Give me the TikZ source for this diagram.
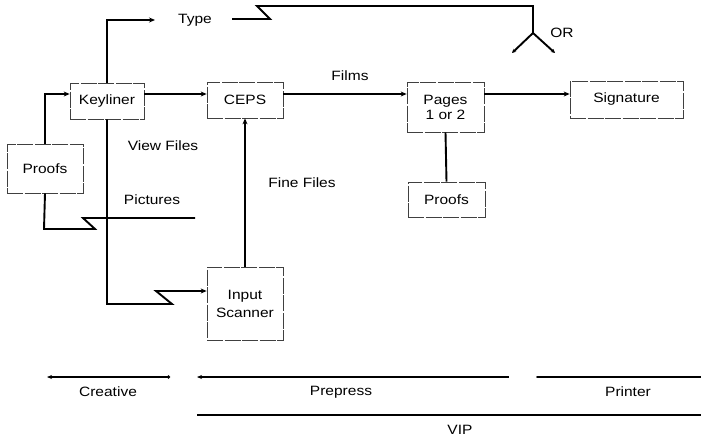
\documentclass[tikz,border=0pt]{standalone}
\usepackage{fontspec}
\setmainfont{Liberation Sans}[FakeStretch=1.15]
\usetikzlibrary{arrows.meta}

\tikzset{
  unit/.style={draw=black!75, line width=0.7pt, dash pattern=on 16pt off 1.5pt,
    minimum width=#1, inner sep=0pt, align=center, font=\fontsize{13.5}{16}\selectfont},
  lbl/.style={inner sep=0pt, font=\fontsize{13.5}{16}\selectfont},
  flow/.style={line width=1.9pt, line join=miter},
  tip/.style={-{Stealth[length=6pt,width=5pt]}},
  band/.style={line width=2pt},
}

\begin{document}
\begin{tikzpicture}[x=1pt,y=-1pt]
\useasboundingbox (0,0) rectangle (701,437);

% units of work
\node[unit=74pt, minimum height=36pt] (keyliner)  at (107,101)   {Keyliner};
\node[unit=76pt, minimum height=36pt] (ceps)      at (245,100)   {CEPS};
\node[unit=77pt, minimum height=50pt] (pages)     at (445.5,107) {Pages\\[-1pt]1 or 2};
\node[unit=113pt,minimum height=37pt] (signature) at (626.5,99.5){Signature};
\node[unit=76pt, minimum height=49pt] (proofsL)   at (45,168.5)  {Proofs};
\node[unit=77pt, minimum height=35pt] (proofsR)   at (446.5,199.5){Proofs};
\node[unit=76pt, minimum height=73pt] (scanner)   at (245,303.5) {Input\\[2pt]Scanner};

% labels
\node[lbl] (type)     at (195,20)  {Type};
\node[lbl] (or)       at (562,33)  {OR};
\node[lbl] (films)    at (350,76)  {Films};
\node[lbl] (view)     at (163,146) {View Files};
\node[lbl] (pictures) at (152,200) {Pictures};
\node[lbl] (fine)     at (302,183) {Fine Files};
\node[lbl] (creative) at (108,392) {Creative};
\node[lbl] (prepress) at (341,392) {Prepress};
\node[lbl] (printer)  at (628,392) {Printer};
\node[lbl] (vip)      at (460,430) {VIP};

% helper points
\coordinate (main) at (0,94);
\coordinate (typeEnd) at (155,20);
\coordinate (fork) at (533,33);
\coordinate (forkL) at (512,53);
\coordinate (forkR) at (555,53);
\coordinate (picEnd) at (195,218);

% Keyliner up to Type
\draw[flow,tip] (keyliner.north) |- (typeEnd);
% Type across to the OR fork
\draw[flow] (232,19) -- (270,19) -- (257,6) -- (fork |- 0,6) -- (fork);
\draw[flow,-{Stealth[length=4pt,width=4pt]}] (fork) -- (forkL);
\draw[flow,-{Stealth[length=4pt,width=4pt]}] (fork) -- (forkR);

% main line
\draw[flow,tip] (keyliner.east |- main) -- (ceps.west |- main);
\draw[flow,tip] (ceps.east |- main) -- (pages.west |- main);
\draw[flow,tip] (pages.east |- main) -- (signature.west |- main);
\draw[flow] (pages.south) -- (proofsR.north);

% proofs loop and pictures
\draw[flow,tip] (proofsL.north) |- (keyliner.west |- main);
\draw[flow] (proofsL.south) -- (44,229) -- (95,229) -- (83,218) -- (picEnd);

% keyliner down to the scanner
\draw[flow,tip] (keyliner.south) -- (107,304) -- (172,304) -- (156,291) -- (scanner.west |- 0,291);
\draw[flow,tip] (scanner.north) -- (ceps.south);

% phases
\draw[band,{Stealth[length=5pt,width=4pt]}-{Circle[length=3pt]}] (47,377) -- (170,377);
\draw[band,{Stealth[length=5pt,width=4pt]}-] (197,377) -- (509,377);
\draw[band,line cap=round] (537,377) -- (701,377);
\draw[band] (197,415) -- (701,415);
\end{tikzpicture}
\end{document}
